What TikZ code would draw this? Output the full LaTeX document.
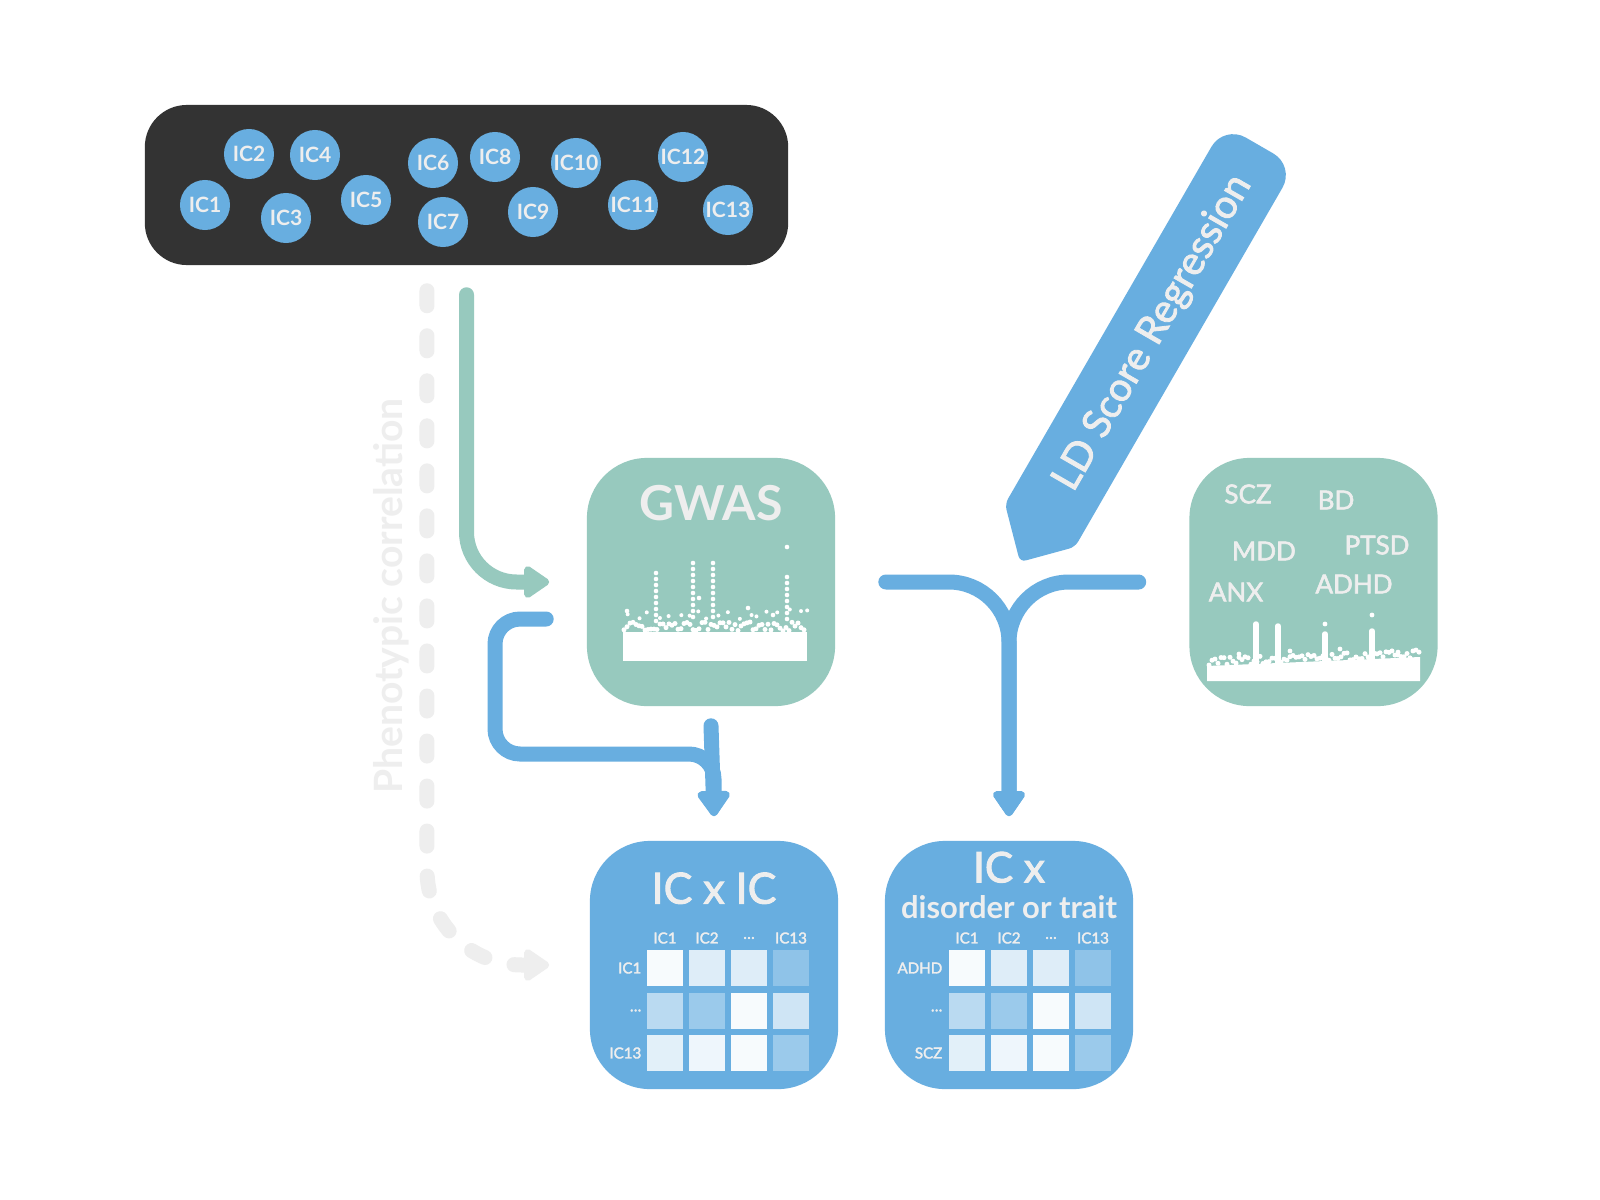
\documentclass[tikz,border=0pt]{standalone}
\usepackage{fontspec}
\setmainfont{Lato}
\newfontfamily\latomed{Lato}[RawFeature={embolden=2.2}]
\usetikzlibrary{arrows.meta,positioning}

\definecolor{icblue}{HTML}{68AEE0}
\definecolor{gwasteal}{HTML}{97C9BE}
\definecolor{darkpanel}{HTML}{333333}
\definecolor{lightgray}{HTML}{EEEEEE}

\begin{document}
\begin{tikzpicture}[x=0.01cm,y=-0.01cm,
    ic node/.style={circle,fill=icblue,minimum size=5mm,inner sep=0pt,
      text=lightgray,font=\bfseries\fontsize{6}{7}\selectfont},
    box node/.style={rounded corners=6mm,minimum size=24.8mm,inner sep=0pt},
    cell/.style={minimum size=3.6mm,inner sep=0pt},
    tiny label/.style={text=lightgray,inner sep=0pt,font=\latomed\fontsize{4.3}{5}\selectfont},
    trait label/.style={text=lightgray,font=\latomed\fontsize{7.4}{8}\selectfont},
    title label/.style={text=lightgray,font=\latomed\fontsize{12.2}{14}\selectfont},
    flow/.style={line width=1.5mm,line cap=round,rounded corners=2.5mm,
      -{Triangle[width=3.6mm,length=2.8mm,round]}}]

  \useasboundingbox[fill=white] (0,0) rectangle (1600,1200);

  % independent components
  \node[fill=darkpanel,rounded corners=4.2mm,minimum width=64.3mm,minimum height=16mm] (icpanel) at (466.5,185) {};
  \foreach \n/\x/\y in {1/205/205,2/249/154,3/286/218,4/315/155,5/366/200,6/433/163,7/443/222,
                        8/495/157,9/533/212,10/576/163,11/633/205,12/683/157,13/728/210}
    \node[ic node] (ic\n) at (\x,\y) {IC\n};

  % phenotypic correlation
  \node[text=lightgray,rotate=90,font=\bfseries\fontsize{11.1}{12}\selectfont] (pheno) at (391,596) {Phenotypic correlation};

  % boxes
  \node[box node,fill=gwasteal] (gwas) at (711,582) {};
  \node[box node,fill=gwasteal] (traits) at (1313.5,582) {};
  \node[box node,fill=icblue] (icic) at (714,965) {};
  \node[box node,fill=icblue] (icdis) at (1009,965) {};

  \coordinate (phenostart) at ([xshift=-3.95mm,yshift=-2.5mm]icpanel.south);
  \coordinate (phenoend) at ([xshift=-4mm]icic.west);
  \draw[flow,lightgray,dash pattern=on 1.5mm off 3mm,rounded corners=9.5mm] (phenostart) |- (phenoend);

  \node[title label,font=\bfseries\fontsize{13.7}{15}\selectfont] (gwastitle) at ([yshift=-4.6mm]gwas.north) {GWAS};
  \node[title label] (icictitle) at ([yshift=-4.8mm]icic.north) {IC x IC};
  \node[title label,font=\latomed\fontsize{12}{14}\selectfont] (icdistitle) at ([yshift=-2.7mm]icdis.north) {IC x};
  \node[title label,font=\bfseries\fontsize{8.8}{10}\selectfont] (icdissub) at ([yshift=-6.7mm]icdis.north) {disorder or trait};

  % manhattan plot, GWAS
  \pgfmathsetseed{7}
  \fill[white] (623,632) rectangle (807,661);
  \foreach \i in {0,...,60}
    \fill[white] ({624+3*\i},{631-9*rnd}) circle (2.5);
  \foreach \i in {0,...,18}
    \fill[white] ({626+10*\i+6*rnd},{619-10*rnd}) circle (2);
  \foreach \x/\t/\n in {656/573/9,693/563/10,713/563/10,787/577/8}
    \foreach \k in {1,...,\n}
      \fill[white] (\x,{\t+6*(\k-1)}) circle (2.3);
  \foreach \x/\y in {787/547,627/611,748/608,773/615,699/598}
    \fill[white] (\x,\y) circle (2.3);

  % manhattan plot, disorders
  \fill[white] (1207,681) -- (1207,666) -- (1420,657) -- (1420,681) -- cycle;
  \foreach \i in {0,...,70}
    \fill[white] ({1209+3*\i},{666-0.04*\i*3-8*rnd}) circle (2.5);
  \foreach \x/\t in {1256/624,1278/626,1325/634,1372/631}
    \draw[white,line width=0.55mm,line cap=round] (\x,\t) -- (\x,664);
  \foreach \x/\y in {1325/624,1372/615,1340/649,1239/654,1398/655,1290/651}
    \fill[white] (\x,\y) circle (2.4);

  \foreach \t/\x/\y in {SCZ/1248/494,BD/1336/500,MDD/1264/551,PTSD/1377/545,ANX/1236/592,ADHD/1354/584}
    \node[trait label] (\t) at (\x,\y) {\t};

  % correlation matrices
  \foreach \r/\shades in {1/{5,22,22,74},2/{46,66,5,32},3/{19,11,5,66}}
    \foreach \s [count=\c] in \shades {
      \node[cell,fill=icblue!\s!white] (a\r\c) at ({623+42*\c},{925.5+42.5*\r}) {};
      \node[cell,fill=icblue!\s!white] (b\r\c) at ({925+42*\c},{925.5+42.5*\r}) {};
    }
  \foreach \t [count=\c] in {IC1,IC2,\dots,IC13} {
    \node[tiny label] (acol\c) at ({623+42*\c},938) {\t};
    \node[tiny label] (bcol\c) at ({925+42*\c},938) {\t};
  }
  \foreach \t/\u [count=\r] in {IC1/ADHD,\dots/\dots,IC13/SCZ} {
    \node[tiny label,anchor=east] (arow\r) at ({642},{925.5+42.5*\r}) {\t};
    \node[tiny label,anchor=east] (brow\r) at ({943},{925.5+42.5*\r}) {\u};
  }

  % LD score regression pencil
  \fill[icblue] (1185,356.5) [rounded corners=2.5mm] -- (1295,166) -- (1224,125) -- (1114.5,314.5)
    [rounded corners=0.6mm] -- (1005,504) -- (1020,562) -- (1075,547) -- cycle;
  \node[text=lightgray,rotate=60,font=\latomed\fontsize{11.3}{12}\selectfont] (ldlabel) at (1153,333) {LD Score Regression};

  % connectors
  \coordinate (icout) at ([yshift=-2.9mm]icpanel.south);
  \coordinate (gwasin) at ([xshift=-3.7mm]gwas.west);
  \coordinate (gwasback) at ([xshift=-4mm,yshift=-3.7mm]gwas.west);
  \coordinate (icicin) at ([yshift=2.4mm]icic.north);
  \coordinate (forkL) at ([xshift=5mm]gwas.east);
  \coordinate (forkR) at ([xshift=-5mm]traits.west);
  \coordinate (forkend) at ([yshift=2.4mm]icdis.north);

  \draw[flow,gwasteal,rounded corners=5mm] (icout) |- (gwasin);
  \draw[flow,icblue] (gwasback) -| (495,754) -| (icicin);
  \draw[flow,icblue] ([yshift=-1.9mm]gwas.south) -- (icicin);
  \draw[flow,icblue,rounded corners=6mm] (forkL) -| (forkend);
  \draw[flow,icblue,rounded corners=6mm] (forkR) -| (forkend);

\end{tikzpicture}
\end{document}
